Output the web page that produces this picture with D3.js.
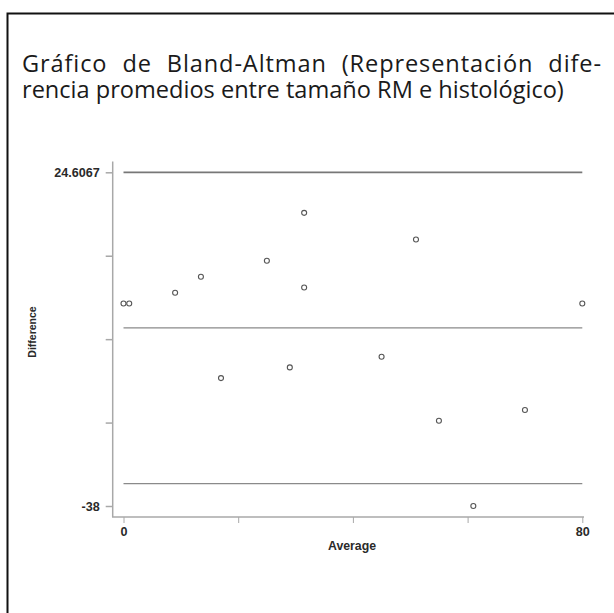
<!DOCTYPE html>
<html>
<head>
<meta charset="utf-8">
<script src="https://cdn.jsdelivr.net/npm/d3@7"></script>
<style>
  html, body { margin: 0; padding: 0; background: #fff; }
  svg { display: block; }
</style>
</head>
<body>
<svg id="chart" width="614" height="613"></svg>
<script>
// ---- data ----
const titleLines = ["Gráfico de Bland-Altman (Representación dife-", "rencia promedios entre tamaño RM e histológico)"];
const averages    = [0, 1, 9, 13.5, 25, 31.5, 31.5, 51, 80, 45, 29, 17, 55, 70, 61];
const differences = [0, 0, 2, 5, 8, 17, 3, 12, 0, -10, -12, -14, -22, -20, -38];
const limits = { upper: 24.6067, mean: -4.6, lower: -33.8 };
const yTickValues = [24.6067, 8.955, -6.697, -22.348, -38];
const yTickLabels = ["24.6067", "", "", "", "-38"];
const xTickValues = [0, 20, 40, 60, 80];
const xTickLabels = ["0", "", "", "", "80"];
const xLabel = "Average", yLabel = "Difference";

const svg = d3.select("#chart");

// frame
svg.append("rect").attr("x", 7.5).attr("y", 13.5).attr("width", 640).attr("height", 640)
  .attr("fill", "none").attr("stroke", "#111").attr("stroke-width", 2);

// title (one text element, two lines)
const title = svg.append("text")
  .attr("font-family", "'Open Sans', 'Noto Sans', sans-serif")
  .attr("font-size", 22).attr("fill", "#1a1a1a");
const spans = titleLines.map((t, i) =>
  title.append("tspan").attr("x", 22).attr("y", 72 + i * 25.7).text(t));
// fit line 2 to its reference width by font size, then justify line 1
const w2 = spans[1].node().getComputedTextLength();
const fs = Math.min(26, 22 * 542 / w2);
title.attr("font-size", fs);
const w1 = spans[0].node().getComputedTextLength();
const gaps = titleLines[0].split(" ").length - 1;
const nChars = titleLines[0].length - 1;
if (w1 < 579) {
  const extra = 579 - w1;
  const ls = 0.55 * extra / nChars;
  spans[0].attr("letter-spacing", ls).attr("word-spacing", 0.45 * extra / gaps);
}

// scales
const x = d3.scaleLinear().domain([0, 80]).range([123.5, 582.3]);
const y = d3.scaleLinear().domain([-38, 24.6067]).range([506, 172.3]);

const axisColor = "#a8a8a8";
const fontAxis = "'Liberation Sans', Arial, sans-serif";

// axes lines
svg.append("line").attr("x1", 112.7).attr("x2", 112.7).attr("y1", 161.5).attr("y2", 517)
  .attr("stroke", axisColor).attr("stroke-width", 1.5);
svg.append("line").attr("x1", 112).attr("x2", 584).attr("y1", 517).attr("y2", 517)
  .attr("stroke", axisColor).attr("stroke-width", 1.5);

// y axis ticks
const yAxis = d3.axisLeft(y).tickValues(yTickValues).tickSize(7).tickPadding(6)
  .tickFormat((d, i) => yTickLabels[i]);
const gy = svg.append("g").attr("transform", "translate(112.7,0)").call(yAxis);
gy.select(".domain").remove();
gy.selectAll(".tick line").attr("stroke", axisColor).attr("stroke-width", 1.5);
gy.selectAll(".tick text").attr("font-family", fontAxis).attr("font-size", 12.6)
  .attr("font-weight", "bold").attr("fill", "#2a2a2a");

// x axis ticks
const xAxis = d3.axisBottom(x).tickValues(xTickValues).tickSize(6).tickPadding(4)
  .tickFormat((d, i) => xTickLabels[i]);
const gx = svg.append("g").attr("transform", "translate(0,517)").call(xAxis);
gx.select(".domain").remove();
gx.selectAll(".tick line").attr("stroke", axisColor).attr("stroke-width", 1);
gx.selectAll(".tick text").attr("font-family", fontAxis).attr("font-size", 12.6)
  .attr("font-weight", "bold").attr("fill", "#2a2a2a");

// axis labels
svg.append("text").attr("x", 352).attr("y", 550).attr("text-anchor", "middle")
  .attr("font-family", fontAxis).attr("font-size", 12.3).attr("font-weight", "bold").attr("fill", "#2a2a2a")
  .text(xLabel);
svg.append("text").attr("transform", "translate(35.5,332) rotate(-90)").attr("text-anchor", "middle")
  .attr("font-family", fontAxis).attr("font-size", 10.5).attr("font-weight", "bold").attr("fill", "#2a2a2a")
  .text(yLabel);

// limit lines
const lineDefs = [
  { v: limits.upper, color: "#777", w: 1.8 },
  { v: limits.mean, color: "#8a8a8a", w: 1.2 },
  { v: limits.lower, color: "#8a8a8a", w: 1.2 }
];
svg.selectAll(".lim").data(lineDefs).enter().append("line")
  .attr("x1", x(0)).attr("x2", x(80))
  .attr("y1", d => y(d.v)).attr("y2", d => y(d.v))
  .attr("stroke", d => d.color).attr("stroke-width", d => d.w);

// points
svg.selectAll(".pt").data(averages.map((a, i) => [a, differences[i]])).enter().append("circle")
  .attr("cx", d => x(d[0])).attr("cy", d => y(d[1])).attr("r", 2.5)
  .attr("fill", "#fff").attr("stroke", "#555").attr("stroke-width", 1.1);
</script>
</body>
</html>
